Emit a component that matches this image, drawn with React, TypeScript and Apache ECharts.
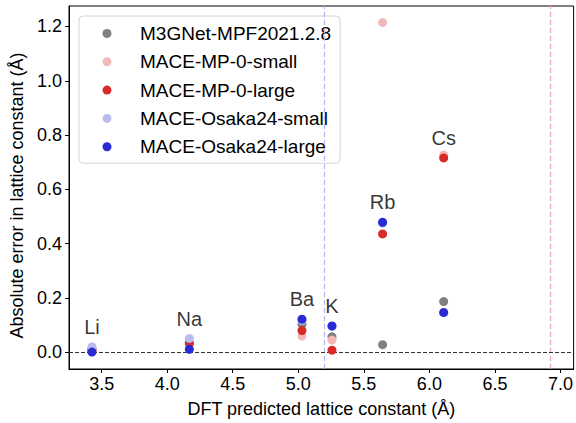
import React, { useEffect, useRef } from "react";
import * as echarts from "echarts";

const elements = ["Li", "Na", "K", "Rb", "Cs", "Ba"];
const dftLattice = [3.426, 4.169, 5.257, 5.643, 6.109, 5.028];

const seriesNames = [
  "M3GNet-MPF2021.2.8",
  "MACE-MP-0-small",
  "MACE-MP-0-large",
  "MACE-Osaka24-small",
  "MACE-Osaka24-large",
];
const m3gnet = [0.01, 0.03, 0.057, 0.028, 0.187, 0.103];
const maceMp0Small = [0.01, 0.03, 0.045, 1.215, 0.727, 0.06];
const maceMp0Large = [0.008, 0.034, 0.008, 0.436, 0.716, 0.08];
const maceOsakaSmall = [0.02, 0.051, 0.095, 0.476, 0.146, 0.118];
const maceOsakaLarge = [0.001, 0.011, 0.097, 0.479, 0.147, 0.122];
const seriesValues = [m3gnet, maceMp0Small, maceMp0Large, maceOsakaSmall, maceOsakaLarge];
const seriesColors = ["#808080", "#f2b8b8", "#d92a2a", "#bbbbf0", "#2a2ad4"];

const xTicks = [3.5, 4.0, 4.5, 5.0, 5.5, 6.0, 6.5, 7.0];
const yTicks = [0.0, 0.2, 0.4, 0.6, 0.8, 1.0, 1.2];

const osakaThreshold = 5.2;
const mp0Threshold = 6.925;
const labelOffset = 0.073;

const FONT = "'Liberation Sans', Arial, Helvetica, sans-serif";

// legend marker: a dot offset to the right inside a wide, otherwise empty icon box
const legendIcon =
  "path://M0,0M48,9M15.5,4.5A4.5,4.5,0,1,1,24.5,4.5A4.5,4.5,0,1,1,15.5,4.5Z";

export default function App() {
  const ref = useRef<HTMLDivElement>(null);
  useEffect(() => {
    if (!ref.current) return;
    const chart = echarts.init(ref.current, null, { renderer: "svg" });

    const scatterSeries = seriesNames.map((name, si) => ({
      name,
      type: "scatter",
      symbol: "circle",
      symbolSize: 9,
      itemStyle: { color: seriesColors[si], opacity: 1 },
      data: dftLattice.map((x, i) => [x, seriesValues[si][i]]),
      z: 3 + si,
    }));

    const labelData = elements.map((el, i) => {
      const maxV = Math.max(
        m3gnet[i],
        maceMp0Large[i],
        maceOsakaSmall[i],
        maceOsakaLarge[i]
      );
      return { value: [dftLattice[i], maxV + labelOffset], name: el };
    });

    const option = {
      animation: false,
      backgroundColor: "#ffffff",
      textStyle: { fontFamily: FONT },
      grid: {
        left: 69,
        right: 1,
        top: 6,
        bottom: 54,
        show: true,
        borderColor: "#000",
        borderWidth: 1,
        backgroundColor: "transparent",
      },
      legend: {
        orient: "vertical",
        left: 79,
        top: 16,
        padding: [8, 9, 7, 8],
        itemGap: 9.3,
        itemWidth: 48,
        itemHeight: 9,
        icon: legendIcon,
        backgroundColor: "rgba(255,255,255,0.85)",
        borderColor: "#d4d4d4",
        borderWidth: 1,
        borderRadius: 4,
        data: seriesNames,
        textStyle: {
          fontSize: 19,
          color: "#000",
          fontFamily: FONT,
          lineHeight: 18,
        },
      },
      xAxis: {
        type: "value",
        min: 3.251,
        max: 7.1,
        name: "DFT predicted lattice constant (Å)",
        nameLocation: "middle",
        nameGap: 31,
        nameTextStyle: { fontSize: 18, color: "#000", fontFamily: FONT },
        splitLine: { show: false },
        axisLine: { show: true, onZero: false, lineStyle: { color: "#000", width: 1 } },
        axisTick: {
          show: true,
          inside: false,
          length: 4,
          customValues: xTicks,
          lineStyle: { color: "#000" },
        },
        axisLabel: {
          show: true,
          customValues: xTicks,
          formatter: (v: number) => v.toFixed(1),
          fontSize: 18,
          color: "#000",
          fontFamily: FONT,
          margin: 6,
        },
      },
      yAxis: {
        type: "value",
        min: -0.0615,
        max: 1.2755,
        name: "Absolute error in lattice constant (Å)",
        nameLocation: "middle",
        nameGap: 42,
        nameTextStyle: {
          fontSize: 18,
          color: "#000",
          fontFamily: FONT,
          padding: [0, 16, 0, 0],
        },
        splitLine: { show: false },
        axisLine: { show: true, onZero: false, lineStyle: { color: "#000", width: 1 } },
        axisTick: {
          show: true,
          inside: false,
          length: 4,
          customValues: yTicks,
          lineStyle: { color: "#000" },
        },
        axisLabel: {
          show: true,
          customValues: yTicks,
          formatter: (v: number) => v.toFixed(1),
          fontSize: 18,
          color: "#000",
          fontFamily: FONT,
          margin: 7,
        },
      },
      series: [
        {
          name: "refLines",
          type: "line",
          data: [],
          silent: true,
          z: 1,
          markLine: {
            silent: true,
            symbol: "none",
            label: { show: false },
            animation: false,
            data: [
              { xAxis: osakaThreshold, lineStyle: { color: "#b3b3ee", type: [5, 3], width: 1.2 } },
              { xAxis: mp0Threshold, lineStyle: { color: "#f2a6a6", type: [5, 3], width: 1.2 } },
              { yAxis: 0, lineStyle: { color: "#333", type: [4, 2], width: 1 } },
            ],
          },
        },
        ...scatterSeries,
        {
          name: "labels",
          type: "scatter",
          symbolSize: 0,
          silent: true,
          data: labelData,
          z: 10,
          label: {
            show: true,
            position: "inside",
            formatter: (p: any) => p.name,
            fontSize: 20,
            color: "#000",
            textBorderWidth: 0,
            fontFamily: FONT,
          },
        },
      ],
    };
    chart.setOption(option as any);
    return () => chart.dispose();
  }, []);
  return (
    <div
      ref={ref}
      style={{ position: "absolute", left: 0, top: 0, width: 576, height: 423 }}
    />
  );
}
